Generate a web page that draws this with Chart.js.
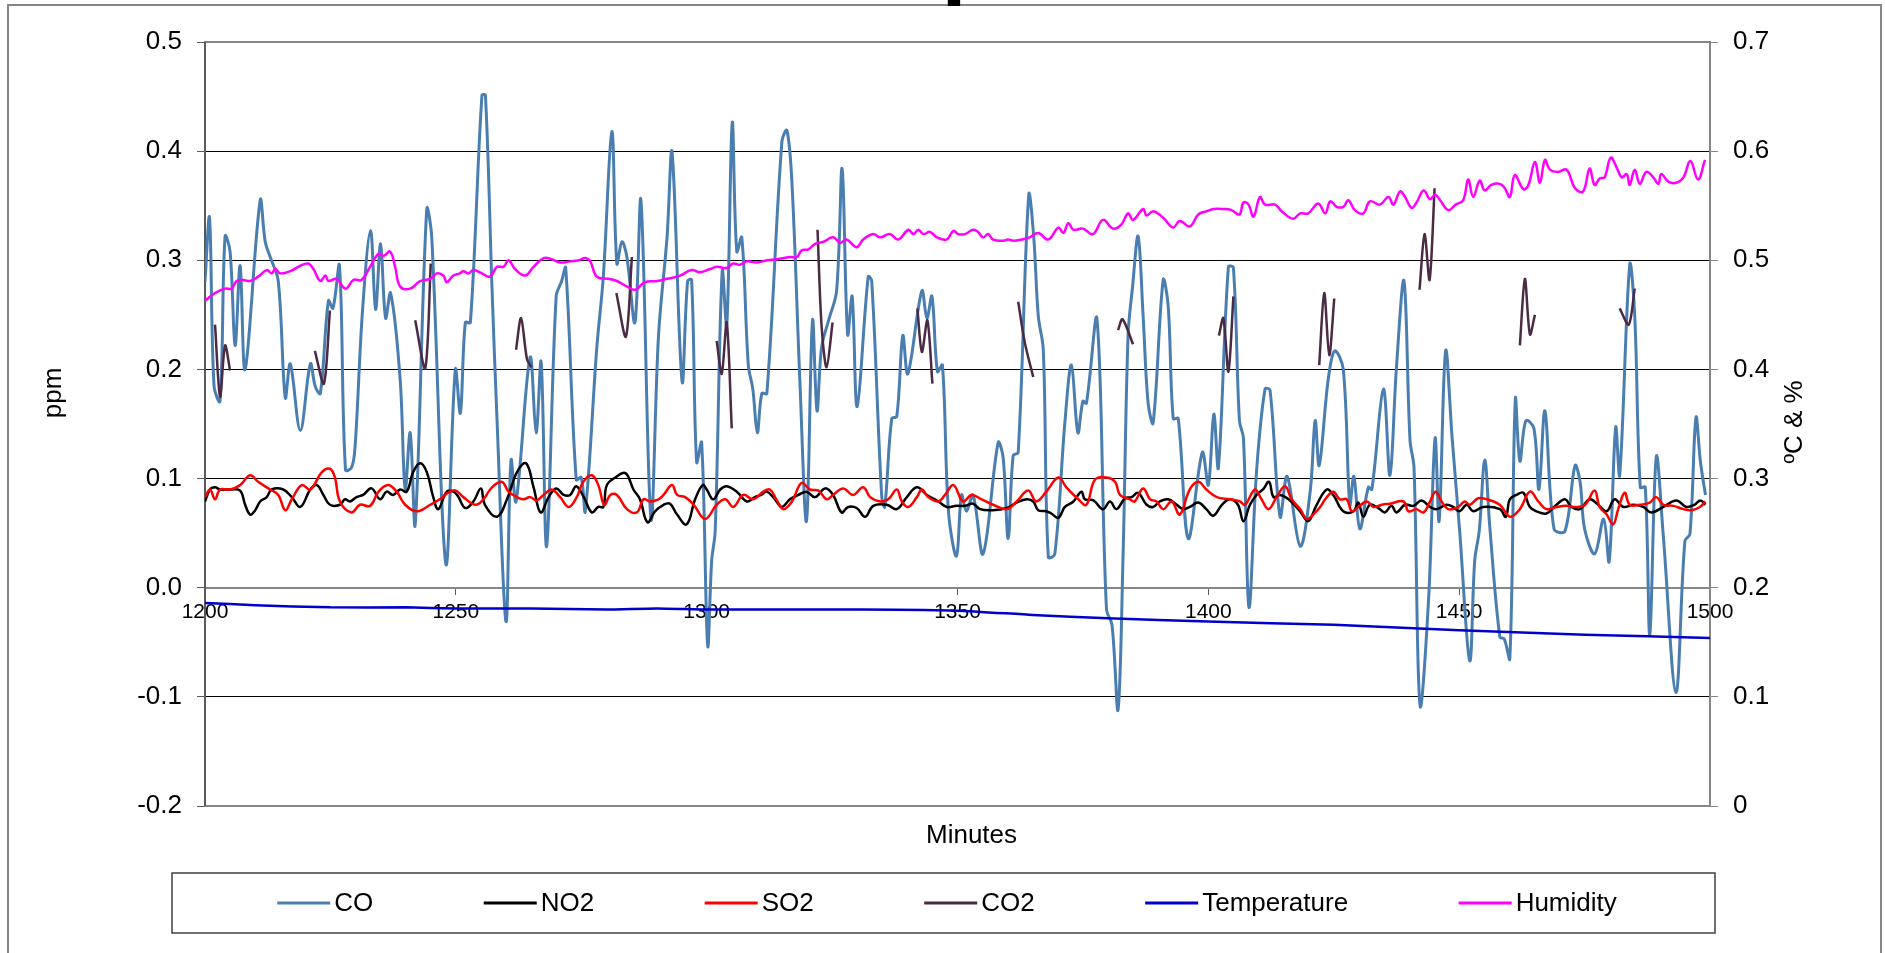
<!DOCTYPE html>
<html>
<head>
<meta charset="utf-8">
<title>Gas readings</title>
<script src="https://cdn.jsdelivr.net/npm/chart.js@4.4.1/dist/chart.umd.min.js"></script>
<style>
  html, body { margin: 0; padding: 0; background: #fff; }
</style>
</head>
<body>
<canvas id="chart" width="1885" height="953"></canvas>
<script>
// text
const chartTitle = 'Campus';
const xTitle = 'Minutes';
const leftTitle = 'ppm';
const rightTitle = 'ºC & %';
const seriesNames = ['CO', 'NO2', 'SO2', 'CO2', 'Temperature', 'Humidity'];
const seriesColors = ['#4a7eb0', '#000000', '#ff0000', '#4b2a43', '#0000cc', '#ff00ff'];

// [minute, ppm]
const coData = [
  [1200, 0.281], [1200.9, 0.339], [1201.8, 0.185], [1203, 0.171], [1204, 0.322], [1205, 0.308],
  [1206, 0.222], [1207, 0.295], [1208, 0.200], [1211, 0.355], [1212, 0.317], [1213, 0.303],
  [1214.6, 0.281], [1216, 0.174], [1217, 0.205], [1219, 0.144], [1221, 0.205], [1222, 0.184],
  [1223, 0.178], [1224.6, 0.263], [1225.5, 0.256], [1226.8, 0.295], [1228, 0.108], [1229.2, 0.110],
  [1229.9, 0.128], [1231.4, 0.254], [1233, 0.327], [1234, 0.255], [1235, 0.315], [1236, 0.247],
  [1237, 0.270], [1238.9, 0.191], [1239.9, 0.090], [1240.9, 0.142], [1241.9, 0.058], [1244.2, 0.347],
  [1245.2, 0.321], [1248, 0.022], [1249.9, 0.200], [1250.9, 0.160], [1251.9, 0.243], [1252.9, 0.243],
  [1255.2, 0.451], [1255.9, 0.451], [1257.2, 0.276], [1258.2, 0.155], [1260, -0.031], [1261, 0.117],
  [1262, 0.079], [1264.8, 0.211], [1266, 0.142], [1267, 0.207], [1268.1, 0.038], [1270, 0.267],
  [1271.1, 0.281], [1271.9, 0.293], [1274, 0.099], [1275, 0.101], [1275.8, 0.070], [1278.1, 0.220],
  [1279.4, 0.285], [1281.1, 0.418], [1282.1, 0.297], [1283.1, 0.317], [1284.1, 0.303], [1285.7, 0.243],
  [1286.9, 0.355], [1288.9, 0.063], [1290.4, 0.231], [1292.1, 0.321], [1293.1, 0.399], [1295.1, 0.189],
  [1296.2, 0.281], [1297, 0.282], [1298, 0.115], [1299, 0.133], [1300.2, -0.053], [1301, 0.025],
  [1301.7, 0.052], [1303.1, 0.290], [1304, 0.240], [1305.1, 0.426], [1306, 0.308], [1307, 0.321],
  [1308.3, 0.204], [1309.2, 0.182], [1310.1, 0.142], [1311, 0.178], [1312, 0.178], [1315, 0.409],
  [1316, 0.419], [1317, 0.371], [1318.6, 0.187], [1319.9, 0.061], [1321.1, 0.245], [1322, 0.162],
  [1322.9, 0.220], [1324.3, 0.245], [1325.9, 0.272], [1327, 0.384], [1328.1, 0.232], [1329, 0.267],
  [1330, 0.166], [1332.2, 0.285], [1332.9, 0.281], [1334.9, 0.083], [1335.5, 0.074], [1336.9, 0.155],
  [1337.9, 0.157], [1339.1, 0.231], [1340.1, 0.196], [1342.9, 0.272], [1343.9, 0.247], [1344.9, 0.267],
  [1346, 0.198], [1347, 0.204], [1348.2, 0.070], [1349.8, 0.029], [1350.8, 0.085], [1351.8, 0.070],
  [1353.1, 0.085], [1355.1, 0.031], [1358.1, 0.133], [1359.1, 0.119], [1360.1, 0.045], [1361.1, 0.121],
  [1362.1, 0.124], [1364.2, 0.360], [1365.2, 0.321], [1366.1, 0.249], [1367.1, 0.218], [1368.1, 0.028],
  [1369.4, 0.031], [1371.4, 0.151], [1372.7, 0.204], [1374, 0.142], [1375, 0.171], [1375.7, 0.169],
  [1377.8, 0.246], [1379.7, -0.020], [1380.8, -0.034], [1382, -0.112], [1383, 0.029], [1384, 0.231],
  [1384.9, 0.276], [1386, 0.322], [1387, 0.249], [1388, 0.169], [1389, 0.151], [1391, 0.282],
  [1392, 0.258], [1393, 0.155], [1394, 0.155], [1396, 0.045], [1398.8, 0.124], [1400, 0.094],
  [1401.1, 0.159], [1402, 0.110], [1404, 0.294], [1405, 0.293], [1406.2, 0.153], [1407, 0.137],
  [1408.1, -0.018], [1409.6, 0.106], [1411.3, 0.182], [1412.3, 0.181], [1414.3, 0.065], [1415.7, 0.102],
  [1418.3, 0.038], [1420.3, 0.088], [1421.3, 0.153], [1422.1, 0.112], [1423.9, 0.191], [1425.2, 0.217],
  [1426.9, 0.200], [1428.2, 0.076], [1429, 0.102], [1430.2, 0.054], [1431.9, 0.092], [1432.6, 0.090],
  [1434.9, 0.182], [1436.2, 0.103], [1437.5, 0.202], [1439, 0.281], [1440.2, 0.135], [1441, 0.110],
  [1442.2, -0.108], [1443.9, -0.011], [1445.2, 0.137], [1446, 0.061], [1447.3, 0.217], [1448.6, 0.137],
  [1450.1, 0.052], [1452.1, -0.067], [1453.1, 0.025], [1454, 0.052], [1455.1, 0.117], [1456.1, 0.056],
  [1458.1, -0.045], [1459, -0.047], [1460.1, -0.065], [1461.2, 0.173], [1462.1, 0.116], [1463.3, 0.153],
  [1464.9, 0.146], [1465.9, 0.090], [1467.1, 0.162], [1468.9, 0.054], [1471.1, 0.052], [1473.1, 0.112],
  [1474.1, 0.097], [1475, 0.054], [1477, 0.031], [1478.8, 0.063], [1479.9, 0.024], [1481.2, 0.147],
  [1482, 0.103], [1484, 0.296], [1485, 0.249], [1486.1, 0.092], [1487.1, 0.092], [1488, -0.043],
  [1489.3, 0.120], [1490.7, 0.047], [1493.2, -0.096], [1495, 0.043], [1496, 0.049], [1497.2, 0.156],
  [1498.1, 0.115], [1499.1, 0.085]
];

const no2Data = [
  [1200, 0.079], [1201, 0.090], [1202, 0.092], [1203, 0.090], [1205, 0.090], [1207, 0.089],
  [1208, 0.076], [1209, 0.067], [1210, 0.071], [1211, 0.079], [1212.3, 0.083], [1213.3, 0.090],
  [1215.6, 0.090], [1217.3, 0.083], [1219, 0.074], [1221, 0.090], [1222.3, 0.094], [1223.6, 0.085],
  [1224.9, 0.076], [1226.9, 0.076], [1227.9, 0.081], [1228.9, 0.079], [1230.2, 0.083], [1231.5, 0.085],
  [1233.2, 0.091], [1234.9, 0.081], [1236.2, 0.088], [1237.5, 0.085], [1238.9, 0.090], [1240.2, 0.088],
  [1241.5, 0.106], [1242.9, 0.114], [1244.2, 0.106], [1245.5, 0.083], [1246.5, 0.072], [1248.2, 0.088],
  [1249.5, 0.088], [1250.4, 0.084], [1251.9, 0.073], [1253.5, 0.079], [1255, 0.091], [1255.8, 0.076],
  [1258.2, 0.065], [1260.2, 0.081], [1262.2, 0.106], [1264, 0.114], [1265.5, 0.092], [1266.9, 0.069],
  [1268.5, 0.083], [1270, 0.091], [1271.5, 0.085], [1272.8, 0.085], [1274, 0.093], [1275.5, 0.083],
  [1277.1, 0.069], [1278.4, 0.074], [1279.4, 0.074], [1280.1, 0.094], [1281.8, 0.101], [1283.8, 0.105],
  [1285.4, 0.090], [1286.7, 0.081], [1288.2, 0.060], [1289.7, 0.070], [1291.4, 0.076], [1292.7, 0.077],
  [1294.1, 0.067], [1296, 0.058], [1297.7, 0.081], [1299.2, 0.094], [1300, 0.090], [1301.3, 0.081],
  [1302.7, 0.090], [1304, 0.093], [1306, 0.088], [1308, 0.079], [1309.6, 0.083], [1310.9, 0.085],
  [1312, 0.088], [1313.6, 0.081], [1315, 0.074], [1316.6, 0.081], [1318.3, 0.085], [1319.9, 0.088],
  [1321.6, 0.083], [1323.6, 0.091], [1325.2, 0.085], [1326.9, 0.069], [1328.2, 0.074], [1329.9, 0.073],
  [1331.6, 0.065], [1333.2, 0.075], [1335.9, 0.076], [1337.9, 0.072], [1339.9, 0.083], [1341.9, 0.092],
  [1343.9, 0.085], [1346.2, 0.079], [1347.9, 0.074], [1349.8, 0.075], [1351.5, 0.075], [1353.1, 0.077],
  [1354.5, 0.072], [1357.1, 0.071], [1359.8, 0.073], [1361.8, 0.078], [1363.8, 0.081], [1365.1, 0.079],
  [1366.1, 0.071], [1367.7, 0.070], [1368.7, 0.068], [1370.1, 0.064], [1371.4, 0.074], [1373.1, 0.079],
  [1374.7, 0.088], [1375.4, 0.081], [1377.1, 0.080], [1379, 0.072], [1380.4, 0.079], [1381.7, 0.072],
  [1383.4, 0.082], [1384.7, 0.083], [1386, 0.087], [1387.7, 0.076], [1389, 0.074], [1390.3, 0.079],
  [1392, 0.081], [1393.7, 0.076], [1395, 0.072], [1396.3, 0.074], [1398, 0.078], [1399.6, 0.072],
  [1401, 0.066], [1402.7, 0.076], [1404.3, 0.081], [1405.9, 0.076], [1407, 0.061], [1408.3, 0.076],
  [1409.6, 0.085], [1410.9, 0.090], [1412.1, 0.097], [1413, 0.083], [1414.3, 0.085], [1416, 0.081],
  [1418.3, 0.070], [1419.9, 0.061], [1421.6, 0.076], [1423.6, 0.090], [1424.9, 0.085], [1426.9, 0.070],
  [1428.9, 0.070], [1429.9, 0.078], [1430.9, 0.065], [1432.2, 0.076], [1433.9, 0.073], [1435.2, 0.069],
  [1436.5, 0.075], [1437.5, 0.069], [1439.2, 0.076], [1440.9, 0.075], [1442.5, 0.080], [1444.2, 0.074],
  [1445.5, 0.072], [1447.5, 0.076], [1448.8, 0.074], [1450.1, 0.070], [1451.5, 0.076], [1452.8, 0.070],
  [1454.8, 0.074], [1458.1, 0.072], [1459.3, 0.065], [1460.1, 0.081], [1461.4, 0.085], [1462.8, 0.087],
  [1464.1, 0.074], [1465.4, 0.070], [1467.4, 0.068], [1469.4, 0.076], [1471.1, 0.081], [1472.4, 0.074],
  [1474.1, 0.072], [1476, 0.081], [1477.7, 0.076], [1479.4, 0.070], [1481, 0.081], [1482.7, 0.074],
  [1484.7, 0.076], [1486.7, 0.074], [1488.3, 0.069], [1490.7, 0.074], [1493.3, 0.080], [1495.3, 0.074],
  [1496.9, 0.076], [1498.1, 0.080], [1499.1, 0.076]
];

const so2Data = [
  [1200, 0.083], [1201, 0.090], [1202, 0.081], [1203, 0.090], [1205, 0.090], [1207, 0.094],
  [1209, 0.103], [1210.6, 0.097], [1213, 0.090], [1214.6, 0.085], [1216, 0.071], [1217.3, 0.081],
  [1219.3, 0.094], [1221, 0.090], [1223.3, 0.106], [1224.9, 0.109], [1225.9, 0.101], [1226.9, 0.079],
  [1229.2, 0.069], [1230.9, 0.076], [1232.9, 0.075], [1234.6, 0.088], [1236.5, 0.094], [1238.2, 0.088],
  [1239.9, 0.076], [1242.2, 0.070], [1244.9, 0.076], [1246.8, 0.081], [1248.8, 0.088], [1250, 0.089],
  [1251.5, 0.083], [1253.9, 0.076], [1255.5, 0.081], [1257.2, 0.092], [1259.2, 0.097], [1260.5, 0.088],
  [1262.2, 0.083], [1263.5, 0.081], [1264.8, 0.083], [1266.1, 0.080], [1267.5, 0.085], [1269.1, 0.090],
  [1270.8, 0.083], [1272.5, 0.074], [1274.1, 0.083], [1275.4, 0.097], [1277.1, 0.103], [1278.4, 0.094],
  [1279.6, 0.076], [1280.8, 0.085], [1282.1, 0.085], [1284.1, 0.072], [1286.1, 0.069], [1287.4, 0.081],
  [1288.7, 0.079], [1290.4, 0.081], [1291.4, 0.085], [1293.1, 0.094], [1294.1, 0.085], [1295.7, 0.083],
  [1297.4, 0.076], [1299.7, 0.063], [1302, 0.076], [1303.7, 0.081], [1305.3, 0.074], [1307.3, 0.085],
  [1309.3, 0.081], [1311.3, 0.088], [1312.6, 0.090], [1314, 0.080], [1315.3, 0.072], [1317, 0.079],
  [1318.9, 0.096], [1320.6, 0.090], [1322.3, 0.089], [1323.9, 0.081], [1325.2, 0.085], [1327.2, 0.091],
  [1329.2, 0.085], [1331.2, 0.092], [1332.6, 0.083], [1334.6, 0.079], [1336.2, 0.081], [1337.9, 0.090],
  [1338.9, 0.079], [1340.2, 0.074], [1341.9, 0.083], [1342.9, 0.090], [1344.2, 0.083], [1346.2, 0.079],
  [1347.5, 0.085], [1349.2, 0.094], [1351.1, 0.079], [1352.8, 0.085], [1354.8, 0.081], [1357.1, 0.076],
  [1359.8, 0.072], [1361.8, 0.079], [1364.1, 0.089], [1365.7, 0.079], [1367.7, 0.088], [1370.1, 0.101],
  [1371.7, 0.092], [1374.1, 0.081], [1375.7, 0.076], [1377.4, 0.099], [1379.7, 0.101], [1381.4, 0.097],
  [1382.4, 0.085], [1384.4, 0.081], [1385.3, 0.079], [1387, 0.091], [1388.4, 0.081], [1389.7, 0.079],
  [1391, 0.072], [1392.7, 0.079], [1394.3, 0.067], [1396.3, 0.090], [1398, 0.097], [1399.6, 0.090],
  [1401.7, 0.083], [1404.3, 0.081], [1406.3, 0.079], [1407.3, 0.076], [1409.3, 0.090], [1410.6, 0.081],
  [1412, 0.072], [1413.6, 0.083], [1415.3, 0.093], [1416.6, 0.081], [1418.3, 0.072], [1419.6, 0.063],
  [1420.9, 0.067], [1422.3, 0.074], [1423.3, 0.081], [1424.9, 0.088], [1426.2, 0.081], [1427.6, 0.081],
  [1428.6, 0.070], [1429.9, 0.074], [1431.6, 0.079], [1432.9, 0.074], [1434.6, 0.076], [1436.2, 0.077],
  [1438.9, 0.079], [1439.9, 0.070], [1441.5, 0.072], [1442.9, 0.069], [1444.2, 0.079], [1445.3, 0.088],
  [1446.5, 0.079], [1447.8, 0.072], [1449.8, 0.074], [1451.1, 0.079], [1452.1, 0.076], [1453.8, 0.082],
  [1455.5, 0.081], [1458.1, 0.076], [1460.1, 0.065], [1462.1, 0.072], [1464.1, 0.088], [1465.8, 0.079],
  [1467.4, 0.072], [1469.4, 0.074], [1471.4, 0.075], [1473.4, 0.074], [1475.1, 0.076], [1477, 0.089],
  [1478, 0.074], [1479.4, 0.067], [1480.7, 0.058], [1481.7, 0.072], [1483, 0.087], [1484, 0.076],
  [1486, 0.076], [1488, 0.078], [1489.3, 0.083], [1490.7, 0.076], [1492.7, 0.075], [1494.7, 0.072],
  [1496.3, 0.071], [1498, 0.074], [1499.1, 0.079]
];

// short bursts, null = no reading
const co2Data = [
  [1202, 0.241], [1203, 0.175], [1204, 0.222], [1205, 0.199], [1206, null],
  [1221.9, 0.217], [1223.7, 0.187], [1224.9, 0.254], [1226, null],
  [1241.9, 0.245], [1243.9, 0.201], [1245, 0.297], [1246, null],
  [1262, 0.218], [1263, 0.247], [1264.2, 0.209], [1265.1, 0.202], [1266, null],
  [1282, 0.270], [1283.9, 0.230], [1285.1, 0.303], [1286, null],
  [1302, 0.226], [1303, 0.196], [1304, 0.243], [1305, 0.146], [1306, null],
  [1322.1, 0.328], [1322.9, 0.240], [1323.9, 0.202], [1325.1, 0.243], [1326, null],
  [1342, 0.256], [1342.9, 0.216], [1344, 0.245], [1345, 0.187], [1346, null],
  [1362.1, 0.262], [1363.4, 0.225], [1365.1, 0.193], [1366, null],
  [1382, 0.236], [1382.9, 0.246], [1385, 0.223], [1386, null],
  [1402.1, 0.231], [1403, 0.247], [1404, 0.198], [1405, 0.267], [1406, null],
  [1422.1, 0.204], [1423.1, 0.270], [1424.1, 0.213], [1425.1, 0.265], [1426, null],
  [1442.1, 0.273], [1443.1, 0.324], [1444.1, 0.282], [1445.1, 0.366], [1446, null],
  [1462.1, 0.222], [1463.1, 0.283], [1464.1, 0.232], [1465.1, 0.250], [1466, null],
  [1482, 0.256], [1483.8, 0.241], [1485, 0.274]
];

// [minute, right axis value]
const tempData = [
  [1200, 0.186], [1210, 0.184], [1225, 0.182], [1240, 0.182], [1250, 0.181], [1265, 0.181],
  [1280, 0.180], [1290, 0.181], [1300, 0.180], [1315, 0.180], [1330, 0.180], [1350, 0.179],
  [1365, 0.175], [1380, 0.172], [1400, 0.169], [1425, 0.166], [1450, 0.161], [1475, 0.157],
  [1500, 0.154]
];

const humData = [
  [1200, 0.463], [1202, 0.470], [1204, 0.474], [1205.3, 0.474], [1206.3, 0.481], [1207.6, 0.482],
  [1209, 0.481], [1210.6, 0.485], [1212.3, 0.491], [1213.3, 0.488], [1214, 0.492], [1215, 0.488],
  [1217, 0.490], [1219, 0.495], [1220.6, 0.497], [1221.6, 0.492], [1223, 0.481], [1224, 0.486],
  [1224.6, 0.481], [1226.2, 0.483], [1228, 0.474], [1229.6, 0.482], [1231.2, 0.482], [1232.9, 0.494],
  [1234.6, 0.506], [1235.6, 0.504], [1236.9, 0.508], [1237.9, 0.494], [1238.9, 0.476], [1240.9, 0.474],
  [1242.9, 0.481], [1244.9, 0.483], [1246.2, 0.488], [1247.5, 0.486], [1248.2, 0.480], [1249.5, 0.486],
  [1250.8, 0.488], [1251.5, 0.490], [1252.5, 0.488], [1253.5, 0.491], [1255.2, 0.488], [1256.8, 0.485],
  [1258.2, 0.494], [1259.5, 0.494], [1260.5, 0.500], [1261.8, 0.492], [1263.8, 0.486], [1265.5, 0.494],
  [1267.5, 0.502], [1269.1, 0.501], [1270.8, 0.498], [1272.8, 0.499], [1274.5, 0.500], [1275.8, 0.502],
  [1276.8, 0.499], [1278.1, 0.485], [1280.4, 0.483], [1282.1, 0.481], [1284.1, 0.476], [1285.7, 0.473],
  [1287.7, 0.480], [1290.1, 0.481], [1292.1, 0.483], [1294.7, 0.486], [1297, 0.491], [1298.7, 0.489],
  [1300.7, 0.492], [1302, 0.494], [1304, 0.493], [1305.3, 0.497], [1306.6, 0.496], [1308, 0.499],
  [1310, 0.498], [1312, 0.500], [1314, 0.501], [1316.6, 0.503], [1318, 0.503], [1318.9, 0.509],
  [1320.3, 0.510], [1321.6, 0.515], [1323.3, 0.517], [1325.2, 0.521], [1326.6, 0.516], [1327.9, 0.519],
  [1329.9, 0.512], [1331.2, 0.519], [1333.2, 0.524], [1334.6, 0.521], [1336.5, 0.524], [1338.2, 0.519],
  [1340.2, 0.528], [1341.2, 0.524], [1342.2, 0.528], [1343.2, 0.524], [1344.5, 0.526], [1345.9, 0.521],
  [1347.8, 0.519], [1349.2, 0.527], [1350.1, 0.524], [1351.5, 0.524], [1353.1, 0.528], [1354.1, 0.526],
  [1355.1, 0.521], [1356.1, 0.524], [1357.1, 0.519], [1359.1, 0.518], [1360.1, 0.519], [1361.1, 0.518],
  [1362.8, 0.519], [1364.4, 0.521], [1366.1, 0.525], [1368.1, 0.519], [1370.1, 0.530], [1371.1, 0.525],
  [1372.1, 0.534], [1373.1, 0.528], [1375, 0.529], [1377, 0.524], [1379, 0.537], [1381, 0.529],
  [1382.7, 0.533], [1384, 0.543], [1385, 0.537], [1387, 0.547], [1387.7, 0.541], [1389, 0.545],
  [1391, 0.539], [1393, 0.530], [1394.3, 0.536], [1396.3, 0.531], [1398, 0.542], [1399.7, 0.545],
  [1401, 0.547], [1403, 0.547], [1404.6, 0.546], [1406.2, 0.542], [1407, 0.553], [1408, 0.551],
  [1409, 0.540], [1410.3, 0.558], [1411.3, 0.551], [1413.3, 0.551], [1414.6, 0.545], [1416.9, 0.538],
  [1418.3, 0.543], [1419.9, 0.543], [1421.9, 0.552], [1423.3, 0.543], [1424.3, 0.554], [1425.6, 0.549],
  [1426.9, 0.549], [1427.9, 0.555], [1429.2, 0.546], [1430.9, 0.543], [1432.2, 0.554], [1434.2, 0.551],
  [1435.9, 0.558], [1436.9, 0.551], [1438.2, 0.563], [1439.2, 0.558], [1440.5, 0.548], [1441.5, 0.553],
  [1442.9, 0.564], [1444.2, 0.556], [1445.2, 0.560], [1446.2, 0.555], [1447.8, 0.546], [1449.3, 0.551],
  [1450.8, 0.555], [1451.8, 0.574], [1452.8, 0.558], [1454.1, 0.573], [1455.1, 0.564], [1456.4, 0.569],
  [1458.1, 0.570], [1459.1, 0.566], [1460.1, 0.558], [1461.1, 0.578], [1462.8, 0.565], [1463.8, 0.569],
  [1465.1, 0.590], [1466.1, 0.571], [1467.1, 0.592], [1468.1, 0.583], [1469.7, 0.581], [1471.4, 0.583],
  [1473.1, 0.566], [1474.7, 0.563], [1476, 0.584], [1477, 0.569], [1478, 0.575], [1479, 0.576],
  [1480.2, 0.594], [1481.4, 0.585], [1482.4, 0.576], [1483.4, 0.579], [1484, 0.569], [1485, 0.583],
  [1486, 0.570], [1487.3, 0.581], [1488.7, 0.576], [1489.7, 0.570], [1490.3, 0.579], [1491.7, 0.572],
  [1493.3, 0.571], [1494.7, 0.576], [1496.1, 0.591], [1497.6, 0.574], [1499, 0.592]
];

const FONT = "'Liberation Sans', Arial, sans-serif";
Chart.defaults.font.family = FONT;
Chart.defaults.color = '#000';

const toPoints = arr => arr.map(([x, y]) => ({ x: x, y: y }));
const fmtLeft = v => (Math.abs(v) < 1e-9 ? 0 : v).toFixed(1);
const fmtRight = v => (Math.abs(v) < 1e-9 ? '0' : v.toFixed(1));

// frame, plot border, axis titles and the boxed legend
const decor = {
  id: 'decor',
  beforeDraw(chart) {
    const ctx = chart.ctx;
    ctx.save();
    ctx.fillStyle = '#fff';
    ctx.fillRect(0, 0, chart.width, chart.height);
    ctx.strokeStyle = '#868686';
    ctx.lineWidth = 2;
    ctx.strokeRect(8, 5, chart.width - 12, chart.height + 20);
    // title sits above the canvas, only a descender shows
    ctx.fillStyle = '#000';
    ctx.font = 'bold 90px ' + FONT;
    ctx.textAlign = 'center';
    ctx.textBaseline = 'alphabetic';
    ctx.fillText(chartTitle, 924, -13);
    ctx.restore();
  },
  beforeDatasetsDraw(chart) {
    const ctx = chart.ctx;
    const a = chart.chartArea;
    ctx.save();
    ctx.strokeStyle = '#868686';
    ctx.lineWidth = 2;
    ctx.strokeRect(a.left, a.top, a.right - a.left, a.bottom - a.top);
    ctx.strokeStyle = '#595959';
    ctx.beginPath();
    ctx.moveTo(a.left, a.top);
    ctx.lineTo(a.left, a.bottom);
    ctx.stroke();
    ctx.restore();
  },
  afterDraw(chart) {
    const ctx = chart.ctx;
    const a = chart.chartArea;
    ctx.save();
    ctx.fillStyle = '#000';
    ctx.font = '26px ' + FONT;
    ctx.textAlign = 'center';
    ctx.textBaseline = 'middle';
    ctx.fillText(xTitle, (a.left + a.right) / 2 + 14, a.bottom + 30);

    ctx.save();
    ctx.translate(54, 393);
    ctx.rotate(-Math.PI / 2);
    ctx.fillText(leftTitle, 0, 0);
    ctx.restore();

    ctx.save();
    ctx.translate(1795, 422);
    ctx.rotate(-Math.PI / 2);
    ctx.fillText(rightTitle, 0, 0);
    ctx.restore();

    // legend box
    const boxL = a.left - 33, boxT = a.bottom + 67, boxW = a.right - a.left + 38, boxH = 60;
    ctx.strokeStyle = '#404040';
    ctx.lineWidth = 1.5;
    ctx.strokeRect(boxL, boxT, boxW, boxH);

    const sample = 53, gap = 4, spacing = 110.5;
    const widths = seriesNames.map(n => sample + gap + ctx.measureText(n).width);
    const total = widths.reduce((s, w) => s + w, 0) + spacing * (widths.length - 1);
    let x = 947 - total / 2;
    const cy = boxT + boxH / 2;
    ctx.textAlign = 'left';
    seriesNames.forEach((name, i) => {
      ctx.strokeStyle = seriesColors[i];
      ctx.lineWidth = 3;
      ctx.beginPath();
      ctx.moveTo(x, cy);
      ctx.lineTo(x + sample, cy);
      ctx.stroke();
      ctx.fillText(name, x + sample + gap, cy + 1);
      x += widths[i] + spacing;
    });
    ctx.restore();
  }
};

const datasets = [
  { label: seriesNames[0], data: toPoints(coData), borderColor: seriesColors[0], borderWidth: 3, yAxisID: 'y', order: 6, tension: 0.35 },
  { label: seriesNames[1], data: toPoints(no2Data), borderColor: seriesColors[1], borderWidth: 2.5, yAxisID: 'y', order: 5, tension: 0.4 },
  { label: seriesNames[2], data: toPoints(so2Data), borderColor: seriesColors[2], borderWidth: 2.5, yAxisID: 'y', order: 4, tension: 0.4 },
  { label: seriesNames[3], data: toPoints(co2Data), borderColor: seriesColors[3], borderWidth: 2.5, yAxisID: 'y', order: 3, tension: 0.3, spanGaps: false },
  { label: seriesNames[4], data: toPoints(tempData), borderColor: seriesColors[4], borderWidth: 2.5, yAxisID: 'y1', order: 2, tension: 0.2 },
  { label: seriesNames[5], data: toPoints(humData), borderColor: seriesColors[5], borderWidth: 2.5, yAxisID: 'y1', order: 1, tension: 0.4 }
];

new Chart(document.getElementById('chart'), {
  type: 'line',
  data: { datasets: datasets },
  options: {
    responsive: false,
    animation: false,
    devicePixelRatio: 1,
    layout: { padding: { left: 0, right: 0, top: 42, bottom: 147 } },
    elements: { point: { radius: 0, hoverRadius: 0 } },
    plugins: { legend: { display: false }, tooltip: { enabled: false } },
    scales: {
      x: {
        type: 'linear',
        min: 1200,
        max: 1500,
        position: { y: 0 },
        ticks: { stepSize: 50, font: { size: 21 }, color: '#000', padding: 6, maxRotation: 0, callback: v => String(v) },
        grid: { drawOnChartArea: false, drawTicks: true, tickLength: 6, color: '#595959' },
        border: { display: true, color: '#868686', width: 2 }
      },
      y: {
        position: 'left',
        min: -0.2,
        max: 0.5,
        ticks: { stepSize: 0.1, font: { size: 26 }, color: '#000', padding: 15, callback: v => fmtLeft(v) },
        grid: { color: '#000', lineWidth: 1, drawTicks: true, tickLength: 8, tickColor: '#595959' },
        border: { display: true, color: '#595959', width: 2 },
        afterFit(scale) { scale.width = 205; }
      },
      y1: {
        position: 'right',
        min: 0,
        max: 0.7,
        ticks: { stepSize: 0.1, font: { size: 26 }, color: '#000', padding: 15, callback: v => fmtRight(v) },
        grid: { drawOnChartArea: false, drawTicks: true, tickLength: 8, color: '#868686' },
        border: { display: true, color: '#868686', width: 2 },
        afterFit(scale) { scale.width = 175; }
      }
    }
  },
  plugins: [decor]
});
</script>
</body>
</html>
